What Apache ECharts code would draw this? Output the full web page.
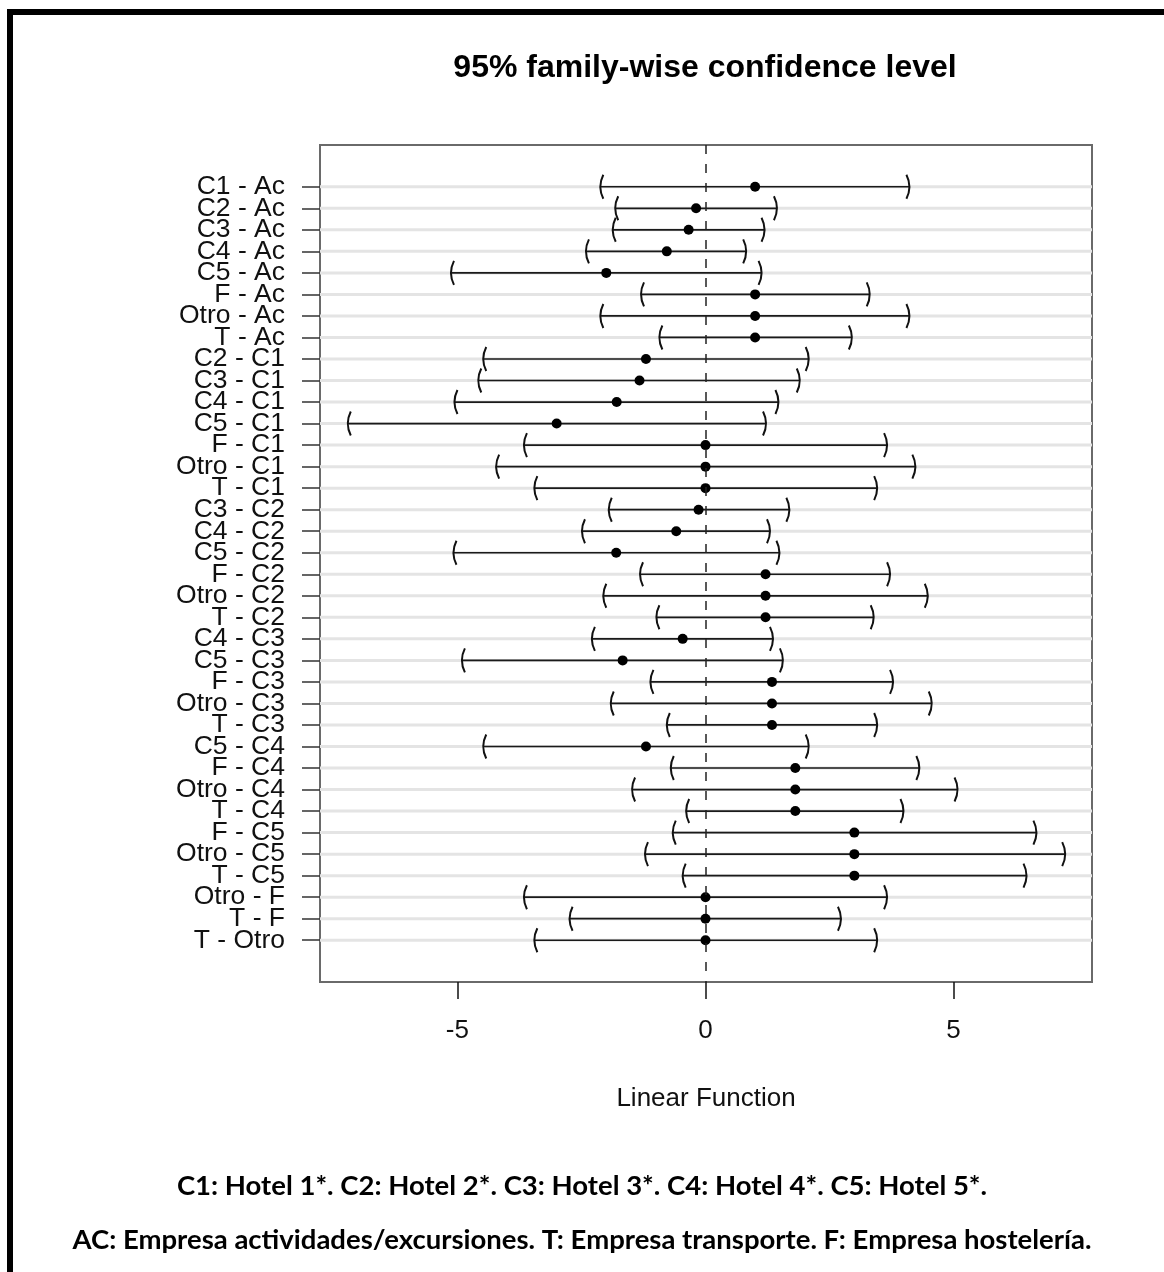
<!DOCTYPE html>
<html>
<head>
<meta charset="utf-8">
<script src="https://cdn.jsdelivr.net/npm/echarts@6/dist/echarts.min.js"></script>
<style>
html,body{margin:0;padding:0;background:#fff;}
#chart{width:1164px;height:1272px;}
</style>
</head>
<body>
<div id="chart"></div>
<script>
// Comparison labels (top to bottom)
const categories = [
  'C1 - Ac','C2 - Ac','C3 - Ac','C4 - Ac','C5 - Ac','F - Ac','Otro - Ac','T - Ac',
  'C2 - C1','C3 - C1','C4 - C1','C5 - C1','F - C1','Otro - C1','T - C1',
  'C3 - C2','C4 - C2','C5 - C2','F - C2','Otro - C2','T - C2',
  'C4 - C3','C5 - C3','F - C3','Otro - C3','T - C3',
  'C5 - C4','F - C4','Otro - C4','T - C4',
  'F - C5','Otro - C5','T - C5',
  'Otro - F','T - F','T - Otro'
];
// Point estimates
const estimates = [
  1.00,-0.19,-0.34,-0.78,-2.00,1.00,1.00,1.00,
  -1.20,-1.33,-1.79,-3.00,0.00,0.00,0.00,
  -0.14,-0.59,-1.80,1.21,1.21,1.21,
  -0.46,-1.67,1.34,1.34,1.34,
  -1.20,1.81,1.81,1.81,
  3.00,3.00,3.00,
  0.00,0.00,0.00
];
// Lower confidence bounds
const lower = [
  -2.12,-1.82,-1.87,-2.41,-5.13,-1.30,-2.12,-0.93,
  -4.48,-4.58,-5.06,-7.21,-3.66,-4.22,-3.45,
  -1.95,-2.49,-5.08,-1.32,-2.06,-0.99,
  -2.29,-4.91,-1.11,-1.91,-0.78,
  -4.48,-0.70,-1.48,-0.39,
  -0.66,-1.22,-0.46,
  -3.66,-2.74,-3.45
];
// Upper confidence bounds
const upper = [
  4.11,1.44,1.19,0.82,1.13,3.31,4.11,2.95,
  2.08,1.90,1.47,1.22,3.66,4.23,3.46,
  1.69,1.30,1.49,3.72,4.48,3.39,
  1.36,1.56,3.78,4.56,3.46,
  2.08,4.31,5.08,3.99,
  6.67,7.25,6.47,
  3.66,2.73,3.46
];
const xTicks = [-5, 0, 5];
const xMin = -7.77, xMax = 7.79;
const rows = categories.map((_, i) => i + 1);
const oddRows = rows.filter(r => r % 2 === 1);
const evenRows = rows.filter(r => r % 2 === 0);
const yMin = -0.94, yMax = categories.length + 1.94;

const intervalData = rows.map((r, i) => [r, lower[i], estimates[i], upper[i]]);
const rowLineData = rows.map(r => [r]);

const chart = echarts.init(document.getElementById('chart'), null, {renderer: 'canvas'});
const labelFont = '"Liberation Sans", Arial, Helvetica, sans-serif';
const footFont = 'Lato, "Open Sans", sans-serif';

function yAxisDef(labelRows, withTicks) {
  return {
    type: 'value', inverse: true, min: yMin, max: yMax, position: 'left', offset: 0,
    axisLine: {show: false, onZero: false},
    axisTick: {show: withTicks, customValues: rows, length: 18, lineStyle: {color: '#333', width: 1.5}},
    axisLabel: {
      customValues: labelRows, fontFamily: labelFont, fontSize: 26.5, color: '#111', margin: 35,
      showMinLabel: true, showMaxLabel: true,
      formatter: v => categories[Math.round(v) - 1] || ''
    },
    splitLine: {show: false}
  };
}

chart.setOption({
  animation: false,
  backgroundColor: '#fff',
  title: {
    text: '95% family-wise confidence level',
    left: 705,
    textAlign: 'center',
    top: 52,
    padding: 0,
    textStyle: {fontFamily: labelFont, fontWeight: 'bold', fontSize: 32, color: '#000'}
  },
  grid: {
    left: 320, right: 72, top: 145, bottom: 290,
    show: true, borderColor: '#6a6a6a', borderWidth: 2, backgroundColor: 'transparent'
  },
  xAxis: {
    type: 'value', min: xMin, max: xMax,
    axisLine: {show: false, onZero: false},
    axisTick: {show: true, customValues: xTicks, length: 17, lineStyle: {color: '#111', width: 1.5}},
    axisLabel: {customValues: xTicks, fontFamily: labelFont, fontSize: 26, color: '#111', margin: 36},
    splitLine: {show: false},
    name: 'Linear Function', nameLocation: 'middle', nameGap: 104,
    nameTextStyle: {fontFamily: labelFont, fontSize: 26, color: '#111'}
  },
  yAxis: [yAxisDef(oddRows, true), yAxisDef(evenRows, false)],
  series: [
    {
      type: 'custom', name: 'rows', z: 1, silent: true, yAxisIndex: 0,
      data: rowLineData,
      encode: {y: 0},
      renderItem: function (params, api) {
        const y = api.value(0);
        const a = api.coord([xMin, y]);
        const b = api.coord([xMax, y]);
        return {type: 'line', shape: {x1: a[0], y1: a[1], x2: b[0], y2: b[1]},
                style: {stroke: '#e4e4e4', lineWidth: 3}};
      }
    },
    {
      type: 'custom', name: 'intervals', z: 3, silent: true, yAxisIndex: 0,
      data: intervalData,
      encode: {y: 0, x: [1, 2, 3]},
      renderItem: function (params, api) {
        const y = api.value(0);
        const pL = api.coord([api.value(1), y]);
        const pC = api.coord([api.value(2), y]);
        const pH = api.coord([api.value(3), y]);
        const h = 12, b = 3;
        return {
          type: 'group',
          children: [
            {type: 'line', shape: {x1: pL[0], y1: pL[1], x2: pH[0], y2: pH[1]},
             style: {stroke: '#1a1a1a', lineWidth: 1.7}},
            {type: 'bezierCurve', shape: {x1: pL[0] + b, y1: pL[1] - h, x2: pL[0] + b, y2: pL[1] + h, cpx1: pL[0] - b, cpy1: pL[1]},
             style: {stroke: '#111', lineWidth: 2, fill: null}},
            {type: 'bezierCurve', shape: {x1: pH[0] - b, y1: pH[1] - h, x2: pH[0] - b, y2: pH[1] + h, cpx1: pH[0] + b, cpy1: pH[1]},
             style: {stroke: '#111', lineWidth: 2, fill: null}},
            {type: 'circle', shape: {cx: pC[0], cy: pC[1], r: 5}, style: {fill: '#000'}}
          ]
        };
      },
      markLine: {
        silent: true, symbol: 'none', label: {show: false},
        lineStyle: {color: '#222', width: 1.5, type: [9, 10]},
        data: [{xAxis: 0}]
      }
    }
  ],
  graphic: [
    {type: 'rect', shape: {x: 7, y: 9, width: 6, height: 1263}, style: {fill: '#000'}, z: 100},
    {type: 'rect', shape: {x: 7, y: 9, width: 1157, height: 6}, style: {fill: '#000'}, z: 100},
    {type: 'text', x: 582, y: 1186, z: 100,
     style: {text: 'C1: Hotel 1*. C2: Hotel 2*. C3: Hotel 3*. C4: Hotel 4*. C5: Hotel 5*.',
             fontFamily: footFont, fontWeight: 'bold', fontSize: 27.5,
             fill: '#000', textAlign: 'center', textVerticalAlign: 'middle'}},
    {type: 'text', x: 582, y: 1240, z: 100,
     style: {text: 'AC: Empresa actividades/excursiones. T: Empresa transporte. F: Empresa hostelería.',
             fontFamily: footFont, fontWeight: 'bold', fontSize: 27.5,
             fill: '#000', textAlign: 'center', textVerticalAlign: 'middle'}}
  ]
});
</script>
</body>
</html>
